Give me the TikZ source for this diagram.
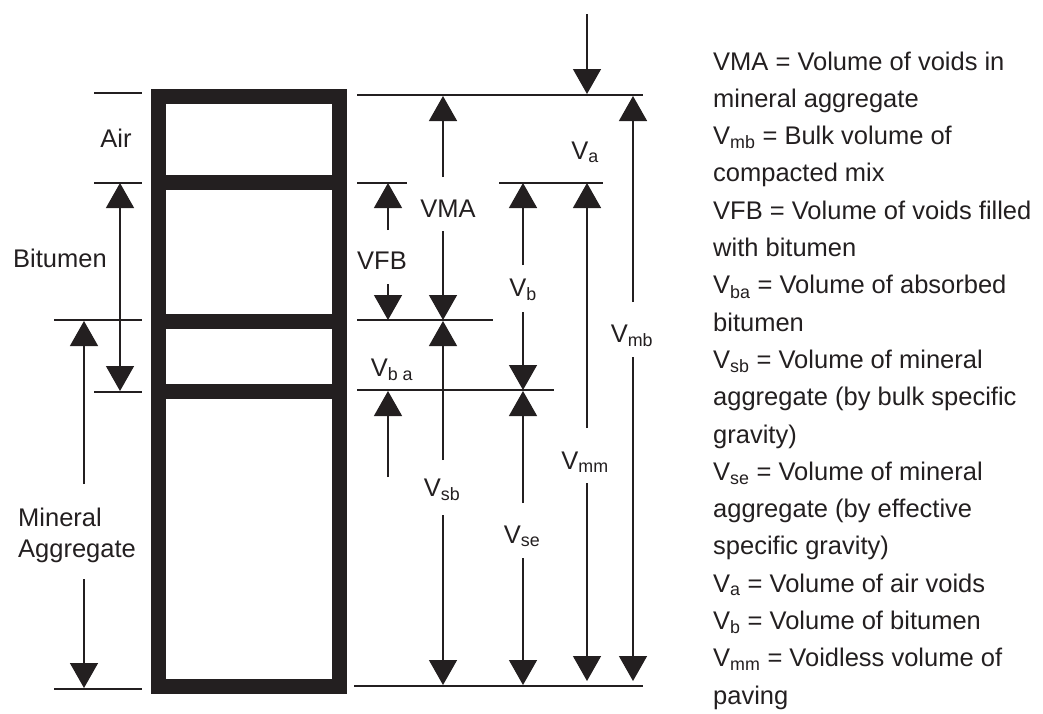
\documentclass[tikz,border=0pt]{standalone}
\usepackage{fontspec}
\setmainfont{Liberation Sans}
\usetikzlibrary{arrows.meta}

\definecolor{ink}{RGB}{35,31,32}
\newcommand{\volsub}[1]{V\textsubscript{#1}}

\begin{document}
\begin{tikzpicture}[x=1pt, y=-1pt, color=ink,
    >={Triangle[width=28pt,length=25pt]},
    dimline/.style={->, line width=1.4pt},
    tickline/.style={line width=1.4pt},
    phase/.style={line width=15pt},
    lbl/.style={inner sep=0pt, anchor=base, font=\fontsize{25.5}{28}\selectfont}]
    \useasboundingbox (0,0) rectangle (1043,713);

    % Ngăn pha
    \draw[phase] (158,96) rectangle (339,686);
    \foreach \y in {182.5, 321, 391}
        \draw[phase] (158,\y) -- (339,\y);

    % Vạch mốc bên trái
    \draw[tickline] (94,93) -- (142,93);
    \draw[tickline] (94,183) -- (142,183);
    \draw[tickline] (54,320) -- (142,320);
    \draw[tickline] (94,392) -- (142,392);
    \draw[tickline] (54,689) -- (142,689);

    % Vạch mốc bên phải
    \draw[tickline] (357,95) -- (643,95);
    \draw[tickline] (357,183) -- (407,183);
    \draw[tickline] (499,183) -- (603,183);
    \draw[tickline] (357,320) -- (493,320);
    \draw[tickline] (357,390) -- (554,390);
    \draw[tickline] (354,686) -- (643,686);

    % Nhãn
    \node[lbl] (air) at (116,147) {Air};
    \node[lbl] (bitumen) at (60,267) {Bitumen};
    \node[lbl, anchor=base west] (mineral) at (18,526) {Mineral};
    \node[lbl, anchor=base west] (aggregate) at (18,557) {Aggregate};
    \node[lbl] (vma) at (448,217) {VMA};
    \node[lbl] (vfb) at (382,269) {VFB};
    \node[lbl] (va) at (585,159) {\volsub{a}};
    \node[lbl] (vb) at (523,296) {\volsub{b}};
    \node[lbl] (vmb) at (632,342) {\volsub{mb}};
    \node[lbl] (vba) at (392,376) {\volsub{b a}};
    \node[lbl] (vsb) at (442,496) {\volsub{sb}};
    \node[lbl] (vse) at (522,543) {\volsub{se}};
    \node[lbl] (vmm) at (585,469) {\volsub{mm}};

    % Mũi tên kích thước bên trái
    \draw[dimline, <->] (120,183) -- (120,391);
    \draw[dimline] (84,484) -- (84,321);
    \draw[dimline] (84,579) -- (84,688);

    % Mũi tên kích thước bên phải
    \draw[dimline] (587,14) -- (587,94);
    \draw[dimline] (443,177) -- (443,96);
    \draw[dimline] (443,231) -- (443,320);
    \draw[dimline] (388,230) -- (388,183);
    \draw[dimline] (388,284) -- (388,320);
    \draw[dimline] (388,477) -- (388,391);
    \draw[dimline] (443,460) -- (443,321);
    \draw[dimline] (443,515) -- (443,685);
    \draw[dimline] (523,265) -- (523,183);
    \draw[dimline] (523,312) -- (523,390);
    \draw[dimline] (523,503) -- (523,391);
    \draw[dimline] (523,558) -- (523,685);
    \draw[dimline] (587,428) -- (587,183);
    \draw[dimline] (587,483) -- (587,681);
    \draw[dimline] (633,302) -- (633,96);
    \draw[dimline] (633,357) -- (633,681);

    % Chú giải
    \foreach \txt [count=\i] in {{VMA = Volume of voids in}, {mineral aggregate},
        {\volsub{mb} = Bulk volume of}, {compacted mix},
        {VFB = Volume of voids filled}, {with bitumen},
        {\volsub{ba} = Volume of absorbed}, {bitumen},
        {\volsub{sb} = Volume of mineral}, {aggregate (by bulk specific}, {gravity)},
        {\volsub{se} = Volume of mineral}, {aggregate (by effective}, {specific gravity)},
        {\volsub{a} = Volume of air voids}, {\volsub{b} = Volume of bitumen},
        {\volsub{mm} = Voidless volume of}, {paving}}
        \node[lbl, anchor=base west] (leg\i) at (713,{70+(\i-1)*37.3}) {\txt};
\end{tikzpicture}
\end{document}
